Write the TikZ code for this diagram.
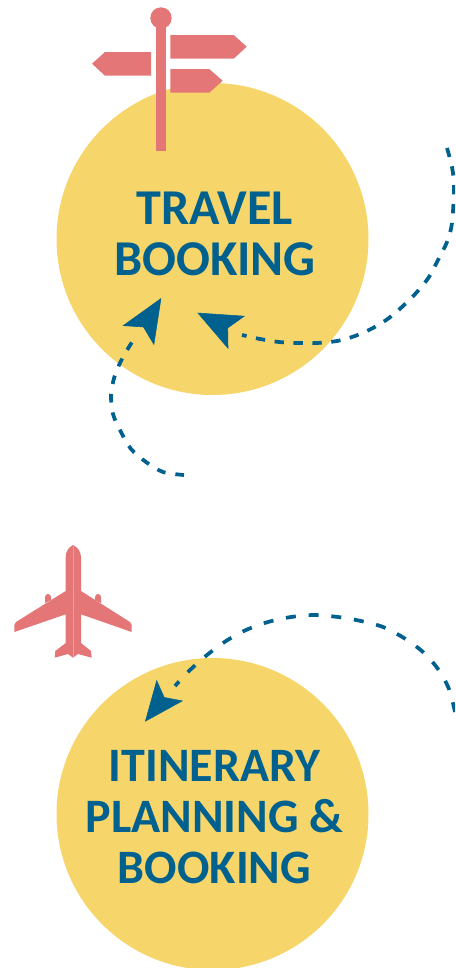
\documentclass[tikz,border=0pt]{standalone}
\usepackage{fontspec}
\setmainfont{Carlito}
\usetikzlibrary{arrows.meta}
\definecolor{sunyellow}{HTML}{F6D66B}
\definecolor{deepblue}{HTML}{00618F}
\definecolor{salmon}{HTML}{E57677}
\tikzset{
  topic/.style={circle,fill=sunyellow,minimum size=234pt,inner sep=0pt},
  topictext/.style={text=deepblue,font=\fontsize{#1}{38}\selectfont\bfseries,align=center},
  flowline/.style={deepblue,line width=2.8pt,dash pattern=on 6.5pt off 7.5pt},
  flowtip/.style={deepblue,-{Stealth[length=#1,width=0.84*#1,inset=0.22*#1]}},
  flowtip/.default=33pt
}
\begin{document}
\begin{tikzpicture}[x=0.75pt,y=-0.75pt]
\useasboundingbox (0,0) rectangle (455,968);
\clip (0,0) rectangle (455,968);
% ---------------- circles ----------------
\node[topic] (travel) at (212.5,239) {};
\node[topic] (itinerary) at (212.5,814) {};
\node[topictext=37.6] (travellabel) at (215,234) {TRAVEL\\BOOKING};
\node[topictext=36] (itinerarylabel) at (214.5,817) {ITINERARY\\PLANNING \&\\BOOKING};

% ---------------- signpost ----------------
\fill[salmon] (155.7,20) rectangle (166,151);
\fill[salmon] (161,18) circle (10.7);
\fill[salmon] (170.3,35) -- (233.7,35) -- (246.7,46.7) -- (233.7,58.7) -- (170.3,58.7) -- cycle;
\fill[salmon] (151,52) -- (105,52) -- (92,63.7) -- (105,75.7) -- (151,75.7) -- cycle;
\fill[salmon] (170.3,69) -- (209.3,69) -- (222.7,80.7) -- (209.3,92.7) -- (170.3,92.7) -- cycle;

% ---------------- plane ----------------
\fill[salmon] (65.7,591) -- (65.7,557) .. controls (65.7,551) and (69,547) .. (73,545)
  .. controls (77,547) and (81,551) .. (81,557) -- (81,591) -- (130,622)
  .. controls (131,623) and (131.7,624) .. (131.7,625) -- (131.7,632) -- (81,614.3) -- (81,643)
  -- (91,651) -- (91.7,657.7) -- (78,654) -- (73,657.7) -- (68,654) -- (54.7,657.7) -- (55.3,651)
  -- (65.7,643) -- (65.7,614.3) -- (14.3,632) -- (14.3,625)
  .. controls (14.3,624) and (15,623) .. (16,622) -- cycle;
\fill[salmon] (45,603) -- (45,597) .. controls (45.5,593) and (50.5,593) .. (51,597) -- (51,600) -- cycle;
\fill[salmon] (95,600) -- (95,597) .. controls (95.5,593) and (100.5,593) .. (101,597) -- (101,603) -- cycle;
\draw[white,opacity=.3,line width=.5pt] (73,546) -- (73,657);

% ---------------- dashed connectors ----------------
\coordinate (starta) at (184,475);
\coordinate (enda) at (134,339);
\coordinate (notcha) at (143.3,327.3);
\coordinate (tipa) at (161.3,298);
\draw[flowline] plot[smooth] coordinates {(starta) (163,472) (146,462) (131,449) (121,432) (113,414)
  (111,394) (115,375) (123,357) (enda)};
\draw[flowtip] (notcha) -- (tipa);

\coordinate (startb) at (447,148);
\coordinate (endb) at (242,335);
\coordinate (notchb) at (228.3,328.3);
\coordinate (tipb) at (197.3,312.7);
\draw[flowline,dash pattern=on 7pt off 7.2pt] plot[smooth] coordinates {(startb) (452,167) (454,187) (452,223)
  (447,242) (438,260) (429,277) (417,292) (403,306) (389,318) (373,328) (355,336)
  (337,341) (317,343) (298,343) (279,342) (260,339) (endb)};
\draw[flowtip] (notchb) -- (tipb);

\coordinate (startc) at (455,712);
\coordinate (endc) at (175,686);
\coordinate (notchc) at (164,697.7);
\coordinate (tipc) at (145,721.7);
\draw[flowline,dash pattern=on 7.5pt off 9.6pt] plot[smooth] coordinates {(startc) (449,689) (438,669) (423,652)
  (404,638) (383,627) (361,621) (338,617) (314,615) (291,617) (268,622) (246,630)
  (226,641) (207,655) (189,671) (endc)};
\draw[flowtip=30pt] (notchc) -- (tipc);
\end{tikzpicture}
\end{document}
